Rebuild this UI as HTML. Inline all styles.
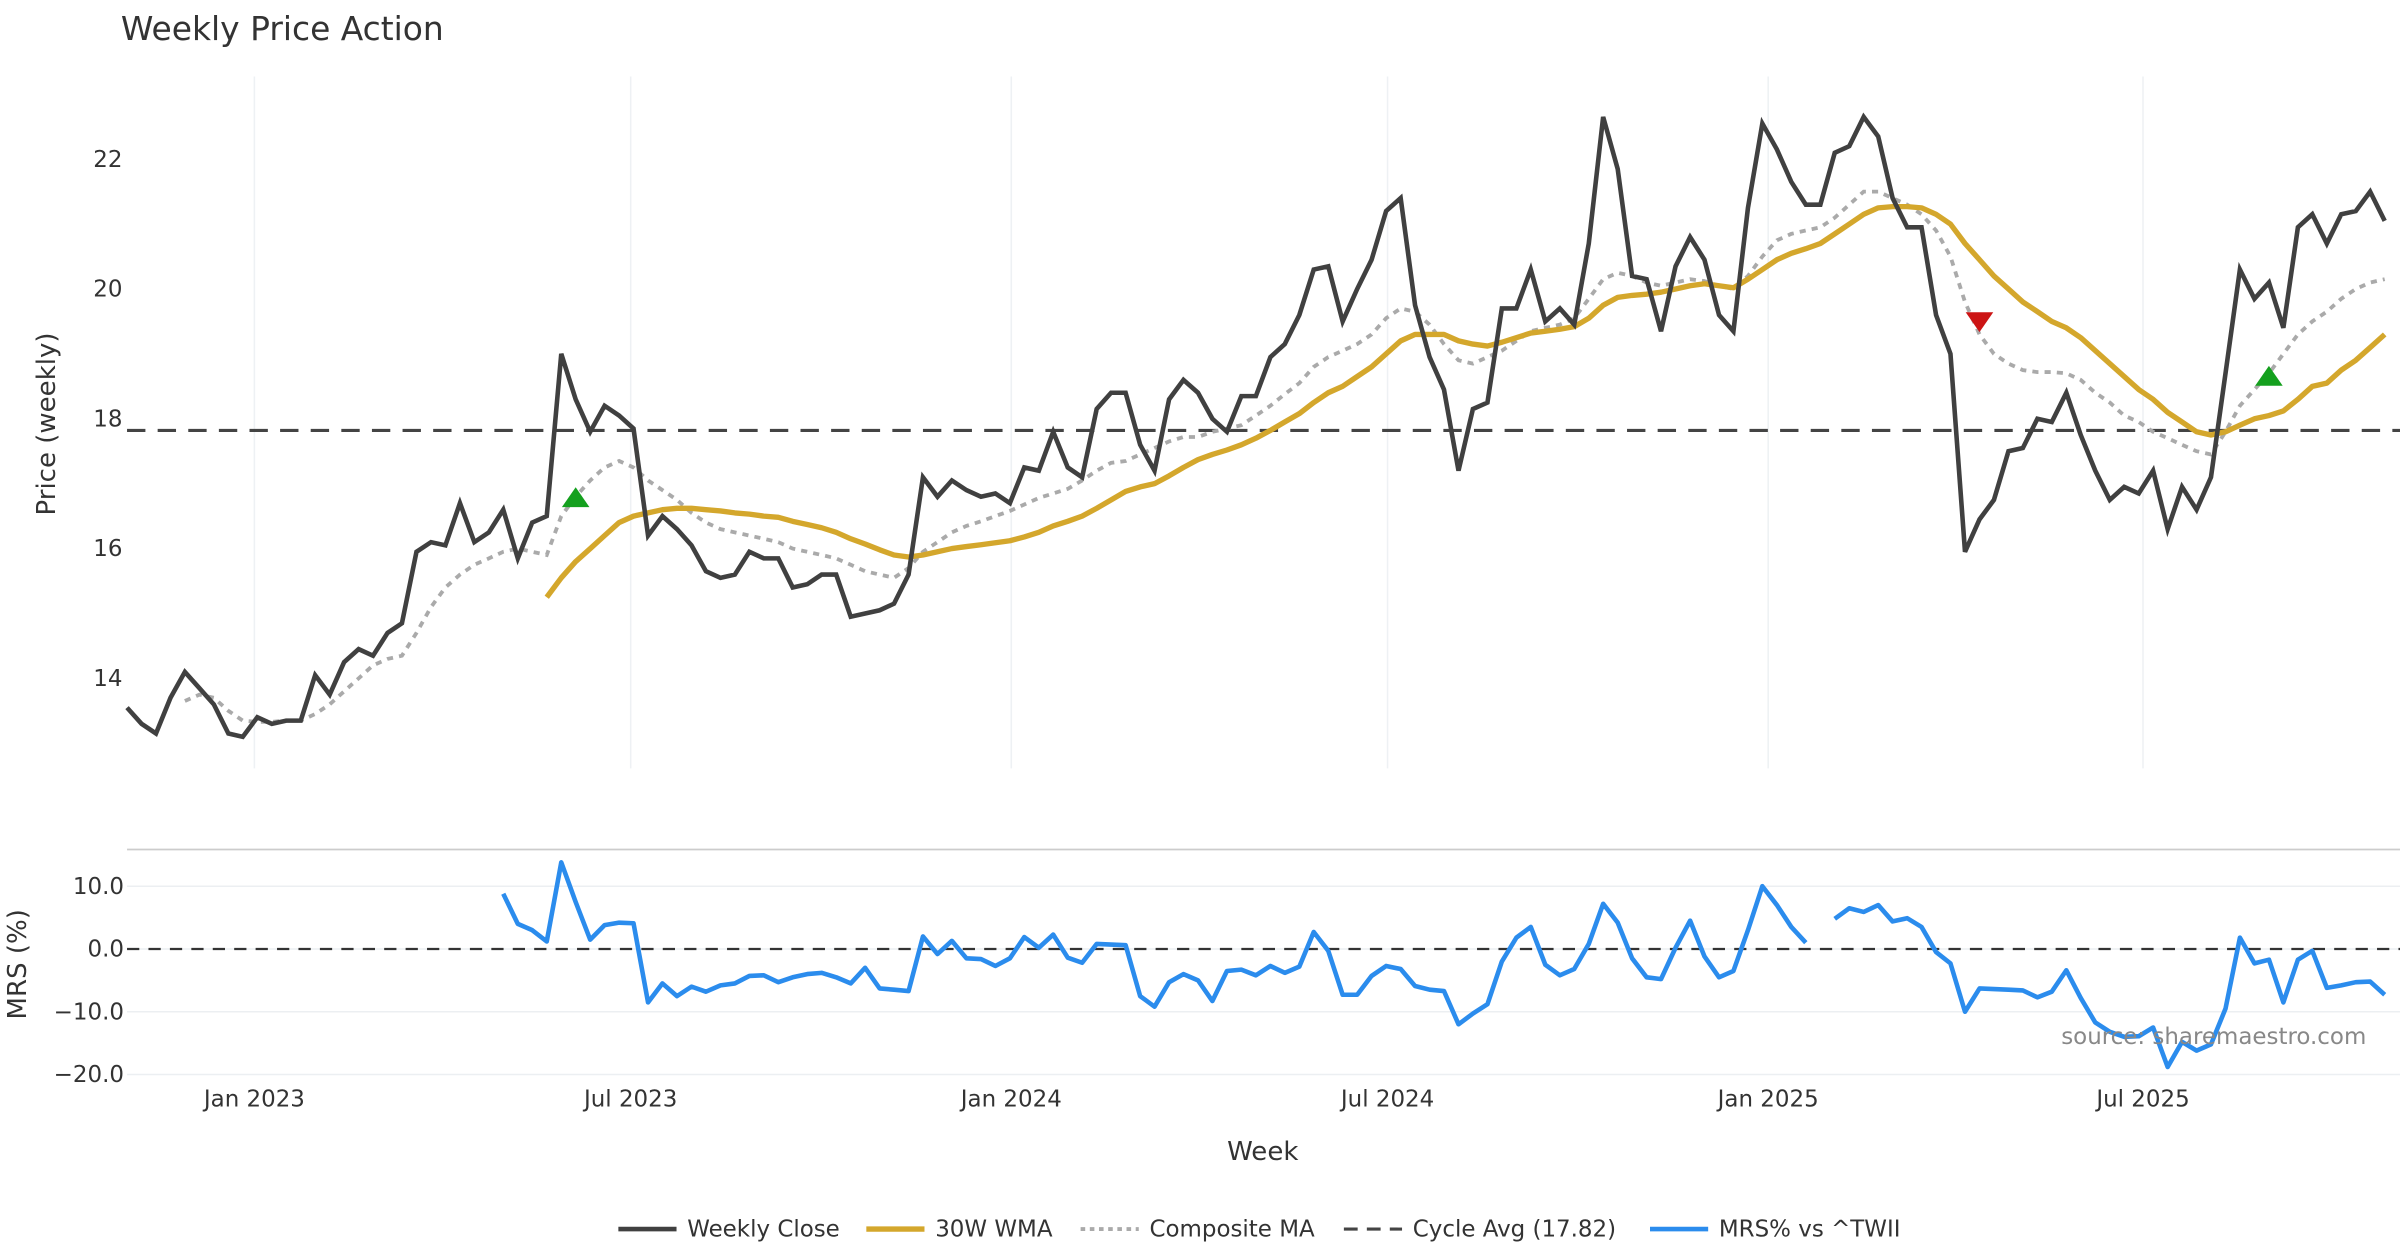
<!DOCTYPE html>
<html><head><meta charset="utf-8"><style>
html,body{margin:0;padding:0;background:#fff;}
svg{display:block;font-family:"DejaVu Sans","Liberation Sans",sans-serif;}
</style></head><body>
<svg id="chart" width="2400" height="1260" viewBox="0 0 1568 823.2" xmlns="http://www.w3.org/2000/svg">
<rect width="1568" height="823.2" fill="#fff"/>
<text x="79" y="26" font-size="21.5" fill="#333">Weekly Price Action</text>
<text transform="translate(36,277) rotate(-90)" text-anchor="middle" font-size="17" fill="#333">Price (weekly)</text>
<text transform="translate(17,630) rotate(-90)" text-anchor="middle" font-size="17" fill="#333">MRS (%)</text>
<text x="825" y="758" text-anchor="middle" font-size="17" fill="#333">Week</text>
<line x1="83" x2="1568" y1="555" y2="555" stroke="#ccc" stroke-width="1.2"/>
<g id="grid"></g>
<g id="topPanel"></g>
<g id="bottomPanel"></g>
<text x="1546" y="682" text-anchor="end" font-size="15" fill="#888">source: sharemaestro.com</text>
<g id="legend"></g>
</svg>
<script>
const closes=[13.55,13.3,13.15,13.7,14.1,13.85,13.6,13.15,13.1,13.4,
13.3,13.35,13.35,14.05,13.75,14.25,14.45,14.35,14.7,14.85,
15.95,16.1,16.05,16.7,16.1,16.25,16.6,15.85,16.4,16.5,
19.0,18.3,17.8,18.2,18.05,17.85,16.2,16.5,16.3,16.05,
15.65,15.55,15.6,15.95,15.85,15.85,15.4,15.45,15.6,15.6,
14.95,15.0,15.05,15.15,15.6,17.1,16.8,17.05,16.9,16.8,
16.85,16.7,17.25,17.2,17.8,17.25,17.1,18.15,18.4,18.4,
17.6,17.2,18.3,18.6,18.4,18.0,17.8,18.35,18.35,18.95,
19.15,19.6,20.3,20.35,19.5,20.0,20.45,21.2,21.4,19.75,
18.95,18.45,17.2,18.15,18.25,19.7,19.7,20.3,19.5,19.7,
19.45,20.7,22.65,21.85,20.2,20.15,19.35,20.35,20.8,20.45,
19.6,19.35,21.25,22.55,22.15,21.65,21.3,21.3,22.1,22.2,
22.65,22.35,21.4,20.95,20.95,19.6,19.0,15.95,16.45,16.75,
17.5,17.55,18.0,17.95,18.4,17.75,17.2,16.75,16.95,16.85,
17.2,16.3,16.95,16.6,17.1,18.7,20.3,19.85,20.1,19.4,
20.95,21.15,20.7,21.15,21.2,21.5,21.05];
const wmaStart=29;
const wma=[15.25,15.55,15.8,16.0,16.2,16.4,16.5,16.55,16.6,16.62,
16.62,16.6,16.58,16.55,16.53,16.5,16.48,16.42,16.37,16.32,
16.25,16.15,16.07,15.98,15.9,15.87,15.9,15.95,16.0,16.03,
16.06,16.09,16.12,16.18,16.25,16.35,16.42,16.5,16.62,16.75,
16.88,16.95,17.0,17.12,17.25,17.37,17.45,17.52,17.6,17.7,
17.82,17.95,18.08,18.25,18.4,18.5,18.65,18.8,19.0,19.2,
19.3,19.3,19.3,19.2,19.15,19.12,19.18,19.25,19.32,19.35,
19.38,19.42,19.55,19.75,19.87,19.9,19.92,19.95,20.0,20.05,
20.08,20.05,20.02,20.15,20.3,20.45,20.55,20.62,20.7,20.85,
21.0,21.15,21.25,21.27,21.27,21.25,21.15,21.0,20.7,20.45,
20.2,20.0,19.8,19.65,19.5,19.4,19.25,19.05,18.85,18.65,
18.45,18.3,18.1,17.95,17.8,17.75,17.8,17.9,18.0,18.05,
18.12,18.3,18.5,18.55,18.75,18.9,19.1,19.3];
const compStart=4;
const composite=[13.65,13.75,13.7,13.5,13.35,13.33,13.33,13.35,13.35,13.45,
13.6,13.8,14.0,14.2,14.3,14.35,14.7,15.1,15.4,15.6,
15.75,15.85,15.95,16.0,15.95,15.9,16.5,16.8,17.05,17.25,
17.35,17.25,17.05,16.9,16.75,16.55,16.4,16.3,16.25,16.2,
16.15,16.1,16.0,15.95,15.9,15.85,15.75,15.65,15.6,15.55,
15.7,15.95,16.1,16.25,16.35,16.42,16.5,16.58,16.68,16.78,
16.85,16.92,17.05,17.2,17.32,17.35,17.45,17.55,17.65,17.72,
17.72,17.8,17.85,17.9,18.05,18.2,18.38,18.55,18.8,18.95,
19.05,19.15,19.3,19.55,19.7,19.65,19.45,19.15,18.9,18.85,
18.95,19.05,19.2,19.35,19.4,19.45,19.55,19.85,20.15,20.25,
20.2,20.1,20.05,20.1,20.15,20.12,20.05,20.0,20.2,20.5,
20.75,20.85,20.9,20.95,21.1,21.3,21.5,21.5,21.4,21.3,
21.15,20.9,20.5,19.8,19.3,19.0,18.85,18.75,18.72,18.72,
18.7,18.6,18.4,18.25,18.05,17.95,17.8,17.7,17.6,17.5,
17.45,17.8,18.2,18.45,18.7,19.0,19.3,19.5,19.65,19.85,
20.0,20.1,20.15];
const cycleAvg=17.82;
const mrsStart=26;
const mrs=[8.8,4.0,3.0,1.2,13.8,7.5,1.5,3.8,4.2,4.1,
-8.5,-5.5,-7.5,-6.0,-6.8,-5.8,-5.5,-4.3,-4.2,-5.3,
-4.5,-4.0,-3.8,-4.5,-5.5,-3.0,-6.3,-6.5,-6.7,2.0,
-0.8,1.3,-1.5,-1.6,-2.7,-1.5,1.9,0.2,2.3,-1.4,
-2.2,0.8,0.7,0.6,-7.5,-9.2,-5.3,-4.0,-5.0,-8.3,
-3.5,-3.3,-4.2,-2.7,-3.8,-2.8,2.7,-0.3,-7.3,-7.3,
-4.3,-2.7,-3.2,-5.9,-6.5,-6.7,-12.0,-10.3,-8.8,-2.0,
1.8,3.5,-2.5,-4.2,-3.2,0.8,7.2,4.2,-1.5,-4.5,
-4.8,0.2,4.5,-1.2,-4.5,-3.5,3.0,10.0,7.0,3.5,
1.0,null,4.8,6.5,5.9,7.0,4.4,4.9,3.5,-0.5,
-2.3,-10.0,-6.3,-6.4,-6.5,-6.6,-7.7,-6.8,-3.4,-7.8,
-11.7,-13.2,-14.0,-13.9,-12.5,-18.8,-14.8,-16.2,-15.2,-9.5,
1.8,-2.3,-1.7,-8.5,-1.7,-0.3,-6.2,-5.8,-5.3,-5.2,
-7.3];
const buyIdx=[31,148];
const buyVal=[16.78,18.65];
const sellIdx=[128];
const sellVal=[19.5];
const priceTicks=[14,16,18,20,22];
const mrsTicks=[10,0,-10,-20];
const mrsTickLabels=["10.0","0.0","\u221210.0","\u221220.0"];
const monthIdx=[8.8,34.8,61.1,87.1,113.4,139.3];
const monthLabels=["Jan 2023","Jul 2023","Jan 2024","Jul 2024","Jan 2025","Jul 2025"];

const NS="http://www.w3.org/2000/svg";
const X0=83,X1=1558;
const xs=i=>X0+i*(X1-X0)/(closes.length-1);
const yp=v=>104+(22-v)*42.4;
const ym=v=>620-v*4.1;
function mk(tag,attrs,parent,text){const e=document.createElementNS(NS,tag);for(const k in attrs)e.setAttribute(k,attrs[k]);if(text!==undefined)e.textContent=text;parent.appendChild(e);return e;}
const gridG=document.getElementById('grid'),topG=document.getElementById('topPanel'),botG=document.getElementById('bottomPanel'),legG=document.getElementById('legend');

monthIdx.forEach((m,k)=>{
  const l=mk('line',{x1:xs(m),x2:xs(m),y1:50,y2:502,stroke:'#eef1f4','stroke-width':1},gridG);
  
  
  const t=mk('text',{x:xs(m),y:723,'text-anchor':'middle','font-size':15,fill:'#333'},gridG,monthLabels[k]);
  
  
});
priceTicks.forEach(v=>{
  const t=mk('text',{x:80,y:yp(v)+5,'text-anchor':'end','font-size':15,fill:'#333'},gridG,String(v));
  
  
});
mrsTicks.forEach((v,k)=>{
  const l=mk('line',{x1:83,x2:1568,y1:ym(v),y2:ym(v),stroke:'#eceff2','stroke-width':1},gridG);
  
  
  const t=mk('text',{x:81,y:ym(v)+5,'text-anchor':'end','font-size':15,fill:'#333'},gridG,mrsTickLabels[k]);
  
  
});

function pathFrom(arr,start,yf){let d='',pen=false;arr.forEach((v,k)=>{if(v===null){pen=false;return;}d+=(pen?'L':'M')+xs(start+k).toFixed(1)+' '+yf(v).toFixed(1);pen=true;});return d;}

const ca=mk('line',{x1:83,x2:1568,y1:yp(cycleAvg),y2:yp(cycleAvg),stroke:'#444','stroke-width':2,'stroke-dasharray':'12,8'},topG);


const cp=mk('path',{d:pathFrom(composite,compStart,yp),fill:'none',stroke:'#aaa','stroke-width':2.5,'stroke-dasharray':'4,4'},topG);


const wp=mk('path',{d:pathFrom(wma,wmaStart,yp),fill:'none',stroke:'#d4a72c','stroke-width':3.5,'stroke-linejoin':'round'},topG);


const cl=mk('path',{d:pathFrom(closes,0,yp),fill:'none',stroke:'#404040','stroke-width':3,'stroke-linejoin':'miter'},topG);


buyIdx.forEach((b,k)=>{const x=xs(b),y=yp(buyVal[k]);
  const p=mk('polygon',{points:`${x-9},${y+6} ${x+9},${y+6} ${x},${y-7}`,fill:'#14a01e'},topG);
  
  });
sellIdx.forEach((b,k)=>{const x=xs(b),y=yp(sellVal[k]);
  const p=mk('polygon',{points:`${x-9},${y-6} ${x+9},${y-6} ${x},${y+7}`,fill:'#cc1414'},topG);
  
  });

const z=mk('line',{x1:83,x2:1568,y1:ym(0),y2:ym(0),stroke:'#333','stroke-width':1.5,'stroke-dasharray':'8,6'},botG);


const mp=mk('path',{d:pathFrom(mrs,mrsStart,ym),fill:'none',stroke:'#2b8ced','stroke-width':3,'stroke-linejoin':'round'},botG);



const items=[['Weekly Close','#404040',null,3],['30W WMA','#d4a72c',null,3.5],['Composite MA','#aaa','3,3',2.5],['Cycle Avg (17.82)','#444','9,6',2],['MRS% vs ^TWII','#2b8ced',null,3]];
const widths=[[404,449],[566,692],[706,852],[878,1064],[1078,1246]];
items.forEach((it,k)=>{const g=mk('g',{},legG);
  
  
  const a={x1:widths[k][0],x2:widths[k][0]+38,y1:803,y2:803,stroke:it[1],'stroke-width':it[3]};if(it[2])a['stroke-dasharray']=it[2];
  mk('line',a,g);
  mk('text',{x:widths[k][0]+45,y:808,'font-size':15,fill:'#333'},g,it[0]);
});
</script>
</body></html>
